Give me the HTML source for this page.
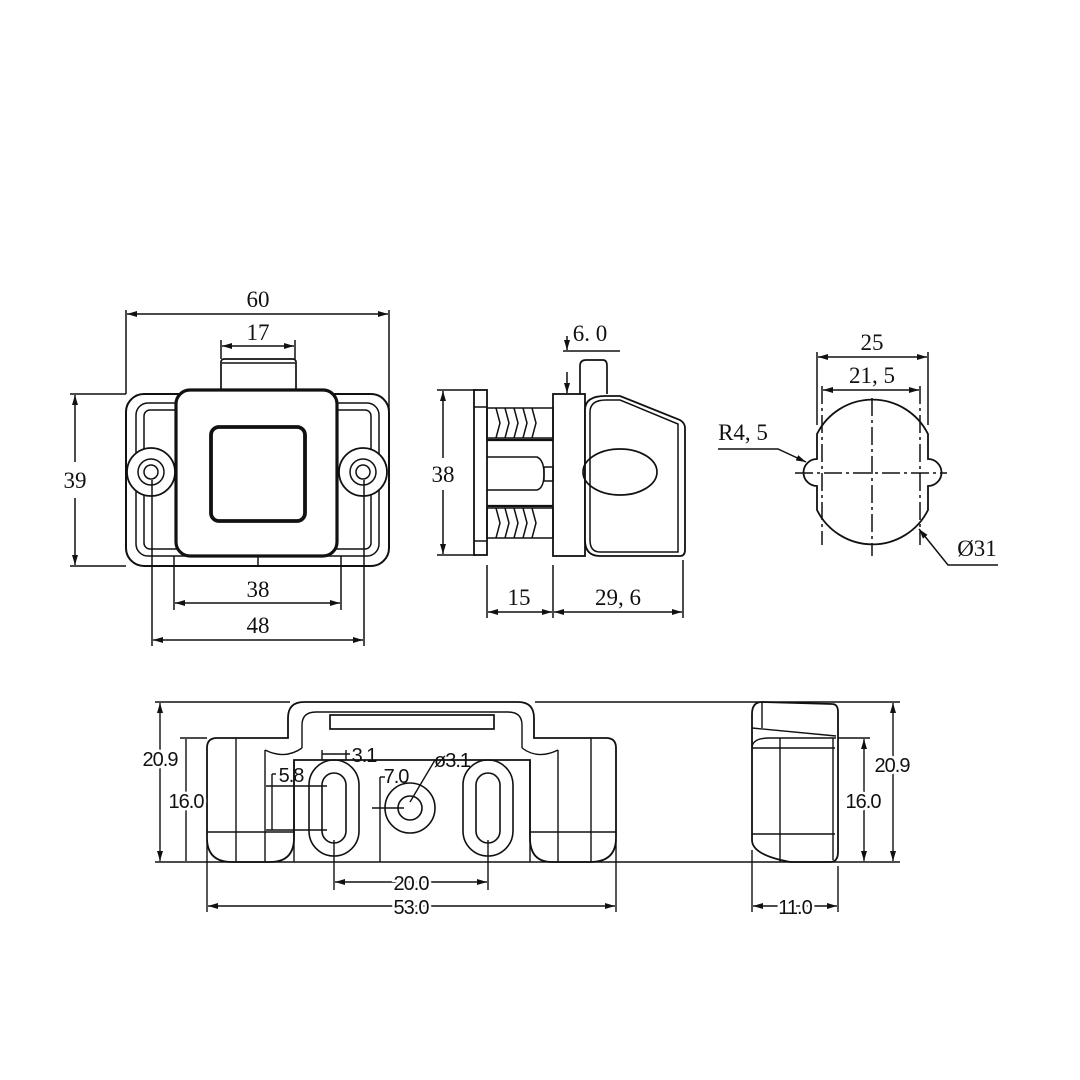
<!DOCTYPE html>
<html><head><style>html,body{margin:0;padding:0;background:#fff}svg{display:block}</style></head>
<body>
<svg width="1080" height="1080" viewBox="0 0 1080 1080" xmlns="http://www.w3.org/2000/svg">
<defs>
<marker id="a" viewBox="0 0 10 6" refX="10" refY="3" markerWidth="10" markerHeight="6" orient="auto-start-reverse" markerUnits="userSpaceOnUse"><path d="M0,0 L10,3 L0,6 z" fill="#111"/></marker>
</defs>
<rect width="1080" height="1080" fill="#fff"/>
<g fill="none" stroke="#111" stroke-width="1.5">
<!-- FRONT VIEW -->
<line x1="126" y1="310" x2="126" y2="394"/><line x1="389" y1="310" x2="389" y2="410"/>
<line x1="127" y1="314" x2="388" y2="314" marker-start="url(#a)" marker-end="url(#a)"/>
<line x1="221" y1="340" x2="221" y2="359"/><line x1="295" y1="340" x2="295" y2="359"/>
<line x1="222" y1="346" x2="294" y2="346" marker-start="url(#a)" marker-end="url(#a)"/>
<rect x="221" y="359" width="75" height="32" rx="3" stroke-width="1.7"/>
<line x1="222" y1="363" x2="295" y2="363"/>
<rect x="126" y="394" width="263" height="172" rx="18" stroke-width="2"/>
<rect x="136" y="403" width="243" height="153" rx="12"/>
<rect x="144" y="410" width="227" height="139" rx="6"/>
<circle cx="151" cy="472" r="24" fill="#fff" stroke-width="1.8"/>
<circle cx="151" cy="472" r="13"/><circle cx="151" cy="472" r="7"/>
<circle cx="363" cy="472" r="24" fill="#fff" stroke-width="1.8"/>
<circle cx="363" cy="472" r="13"/><circle cx="363" cy="472" r="7"/>
<rect x="176" y="390" width="161" height="166" rx="14" fill="#fff" stroke-width="3.2"/>
<rect x="211" y="427" width="94" height="94" rx="8" stroke-width="3.8"/>
<line x1="258" y1="556" x2="258" y2="566"/>
<line x1="70" y1="394" x2="126" y2="394"/><line x1="70" y1="566" x2="126" y2="566"/>
<line x1="75" y1="395" x2="75" y2="462" marker-start="url(#a)"/>
<line x1="75" y1="498" x2="75" y2="565" marker-end="url(#a)"/>
<line x1="174" y1="556" x2="174" y2="610"/><line x1="341" y1="556" x2="341" y2="610"/>
<line x1="175" y1="603" x2="340" y2="603" marker-start="url(#a)" marker-end="url(#a)"/>
<line x1="152" y1="480" x2="152" y2="646"/><line x1="364" y1="480" x2="364" y2="646"/>
<line x1="153" y1="640" x2="363" y2="640" marker-start="url(#a)" marker-end="url(#a)"/>

<!-- SIDE VIEW -->
<line x1="437" y1="390" x2="476" y2="390"/><line x1="437" y1="555" x2="476" y2="555"/>
<line x1="443" y1="391" x2="443" y2="458" marker-start="url(#a)"/>
<line x1="443" y1="490" x2="443" y2="554" marker-end="url(#a)"/>
<rect x="474" y="390" width="13" height="165" stroke-width="1.8"/>
<line x1="474" y1="407" x2="487" y2="407"/><line x1="474" y1="541" x2="487" y2="541"/>
<rect x="487" y="408" width="66" height="30"/>
<rect x="487" y="508" width="66" height="30"/>
<path d="M496,408 l4,15 l-4,15 M505,408 l4,15 l-4,15 M514,408 l4,15 l-4,15 M523,408 l4,15 l-4,15 M532,408 l4,15 l-4,15"/>
<path d="M496,508 l4,15 l-4,15 M505,508 l4,15 l-4,15 M514,508 l4,15 l-4,15 M523,508 l4,15 l-4,15 M532,508 l4,15 l-4,15"/>
<line x1="487" y1="440" x2="553" y2="440" stroke-width="2.2"/><line x1="487" y1="506" x2="553" y2="506" stroke-width="2.2"/>
<path d="M487,457 L537,457 Q544,460 544,474 Q544,488 537,490 L487,490"/>
<rect x="544" y="467" width="9" height="14"/>
<rect x="553" y="394" width="32" height="162" stroke-width="1.8"/>
<path d="M580,394 L580,366 Q580,360 586,360 L603,360 Q607,360 607,366 L607,394" stroke-width="1.7"/>
<path d="M585,410 Q585,396 605,396 L620,396 L680,420 Q685,423 685,428 L685,550 Q685,556 680,556 L600,556 Q585,556 585,540 Z" fill="#fff" stroke-width="1.8"/>
<path d="M590,412 Q590,400 606,400 L620,400 L678,424 L678,552 L600,552 Q590,552 590,540 Z"/>
<ellipse cx="620" cy="472" rx="37" ry="23" stroke-width="1.7"/>
<line x1="563" y1="351" x2="620" y2="351"/>
<line x1="567" y1="336" x2="567" y2="350" marker-end="url(#a)"/>
<line x1="567" y1="372" x2="567" y2="393" marker-end="url(#a)"/>
<line x1="487" y1="565" x2="487" y2="618"/><line x1="553" y1="565" x2="553" y2="618"/><line x1="683" y1="560" x2="683" y2="618"/>
<line x1="488" y1="612" x2="552" y2="612" marker-start="url(#a)" marker-end="url(#a)"/>
<line x1="554" y1="612" x2="682" y2="612" marker-start="url(#a)" marker-end="url(#a)"/>

<!-- RIGHT CIRCLE VIEW -->
<line x1="817" y1="352" x2="817" y2="425"/><line x1="928" y1="352" x2="928" y2="425"/>
<line x1="818" y1="357" x2="927" y2="357" marker-start="url(#a)" marker-end="url(#a)"/>
<line x1="822" y1="386" x2="822" y2="545" stroke-dasharray="18,4,3,4"/>
<line x1="920" y1="386" x2="920" y2="545" stroke-dasharray="18,4,3,4"/>
<line x1="823" y1="390" x2="919" y2="390" marker-start="url(#a)" marker-end="url(#a)"/>
<path d="M817,434 A62,62 0 0 1 928,434 L928,459 A13,13 0 0 1 928,486 L928,510 A62,62 0 0 1 817,510 L817,486 A13,13 0 0 1 817,459 Z" stroke-width="1.8"/>
<line x1="872" y1="398" x2="872" y2="556" stroke-dasharray="18,4,3,4"/>
<line x1="795" y1="473" x2="947" y2="473" stroke-dasharray="18,4,3,4"/>
<path d="M718,449 L778,449 L806,462" marker-end="url(#a)"/>
<path d="M998,565 L948,565 L919,529" marker-end="url(#a)"/>

<!-- BOTTOM VIEW -->
<g stroke-width="1.4">
<line x1="155" y1="702" x2="290" y2="702"/><line x1="535" y1="702" x2="900" y2="702"/>
<line x1="155" y1="862" x2="900" y2="862"/>
<line x1="160" y1="703" x2="160" y2="861" marker-start="url(#a)" marker-end="url(#a)"/>
<line x1="186" y1="739" x2="186" y2="861"/><line x1="180" y1="738" x2="207" y2="738"/>
<path d="M207,748 Q207,738 217,738 L288,738 L288,718 Q288,702 304,702 L518,702 Q534,702 534,718 L534,738 L606,738 Q616,738 616,748 L616,838 Q616,862 590,862 L552,862 Q530,862 530,838 L530,760 L294,760 L294,838 Q294,862 270,862 L232,862 Q207,862 207,838 Z" stroke-width="1.8"/>
<path d="M302,748 L302,725 Q302,712 316,712 L508,712 Q522,712 522,725 L522,748"/>
<rect x="330" y="715" width="164" height="14" stroke-width="1.7"/>
<line x1="207" y1="832" x2="294" y2="832"/><line x1="530" y1="832" x2="616" y2="832"/>
<line x1="236" y1="738" x2="236" y2="862"/><line x1="591" y1="738" x2="591" y2="862"/>
<line x1="265" y1="750" x2="265" y2="862"/><line x1="558" y1="750" x2="558" y2="862"/>
<path d="M265,750 Q285,760 302,748 M558,750 Q538,760 522,748"/>
<line x1="294" y1="760" x2="294" y2="862"/><line x1="530" y1="760" x2="530" y2="862"/>
<rect x="309" y="760" width="50" height="96" rx="25" stroke-width="1.6"/>
<rect x="322" y="773" width="24" height="70" rx="12" stroke-width="1.6"/>
<rect x="463" y="760" width="50" height="96" rx="25" stroke-width="1.6"/>
<rect x="476" y="773" width="24" height="70" rx="12" stroke-width="1.6"/>
<circle cx="410" cy="808" r="25" stroke-width="1.6"/><circle cx="410" cy="808" r="12" stroke-width="1.6"/>
<line x1="372" y1="808" x2="404" y2="808"/>
<line x1="380" y1="777" x2="380" y2="862"/><line x1="380" y1="777" x2="385" y2="777"/>
<line x1="410" y1="802" x2="435" y2="760"/>
<line x1="322" y1="750" x2="322" y2="760"/><line x1="346" y1="750" x2="346" y2="760"/>
<line x1="322" y1="754" x2="350" y2="754"/>
<line x1="266" y1="786" x2="327" y2="786"/><line x1="266" y1="830" x2="327" y2="830"/>
<line x1="272" y1="774" x2="272" y2="830"/><line x1="272" y1="774" x2="276" y2="774"/>
<line x1="334" y1="840" x2="334" y2="890"/><line x1="488" y1="840" x2="488" y2="890"/>
<line x1="335" y1="882" x2="487" y2="882" marker-start="url(#a)" marker-end="url(#a)"/>
<line x1="207" y1="840" x2="207" y2="912"/><line x1="616" y1="840" x2="616" y2="912"/>
<line x1="208" y1="906" x2="615" y2="906" marker-start="url(#a)" marker-end="url(#a)"/>
</g>

<!-- SMALL SIDE VIEW -->
<g stroke-width="1.4">
<path d="M752,714 Q752,702 762,702 L832,704 Q838,704 838,712 L838,852 Q838,862 830,862 L790,862 Q752,855 752,840 Z" stroke-width="1.8"/>
<line x1="762" y1="702" x2="762" y2="728"/>
<line x1="752" y1="728" x2="836" y2="736"/>
<path d="M752,748 Q752,738 770,738 L836,738"/>
<line x1="752" y1="748" x2="835" y2="748"/>
<line x1="780" y1="738" x2="780" y2="862"/>
<line x1="752" y1="834" x2="835" y2="834"/>
<line x1="833" y1="738" x2="833" y2="860"/>
<line x1="838" y1="738" x2="870" y2="738"/>
<line x1="864" y1="739" x2="864" y2="861" marker-start="url(#a)" marker-end="url(#a)"/>
<line x1="893" y1="703" x2="893" y2="861" marker-start="url(#a)" marker-end="url(#a)"/>
<line x1="752" y1="850" x2="752" y2="912"/><line x1="838" y1="866" x2="838" y2="912"/>
<line x1="753" y1="906" x2="837" y2="906" marker-start="url(#a)" marker-end="url(#a)"/>
</g>
</g>

<g font-family="Liberation Serif, serif" font-size="23" fill="#111" text-anchor="middle">
<text x="258" y="307">60</text>
<text x="258" y="340">17</text>
<text x="75" y="488">39</text>
<text x="258" y="597">38</text>
<text x="258" y="633">48</text>
<text x="443" y="482">38</text>
<text x="590" y="341">6. 0</text>
<text x="519" y="605">15</text>
<text x="618" y="605">29, 6</text>
<text x="872" y="350">25</text>
<text x="872" y="383">21, 5</text>
<text x="743" y="440">R4, 5</text>
<text x="977" y="556">Ø31</text>
</g>
<g font-family="Liberation Sans Narrow, Liberation Sans, sans-serif" font-size="20" fill="#111" text-anchor="middle" letter-spacing="-1">
<text x="160" y="766" style="paint-order:stroke" stroke="#fff" stroke-width="5">20.9</text>
<text x="186" y="808" style="paint-order:stroke" stroke="#fff" stroke-width="5">16.0</text>
<text x="364" y="762">3.1</text>
<text x="291" y="782">5.8</text>
<text x="396" y="783">7.0</text>
<text x="452" y="767">ø3.1</text>
<text x="411" y="890" style="paint-order:stroke" stroke="#fff" stroke-width="5">20.0</text>
<text x="411" y="914" style="paint-order:stroke" stroke="#fff" stroke-width="5">53.0</text>
<text x="892" y="772" style="paint-order:stroke" stroke="#fff" stroke-width="5">20.9</text>
<text x="863" y="808" style="paint-order:stroke" stroke="#fff" stroke-width="5">16.0</text>
<text x="795" y="914" style="paint-order:stroke" stroke="#fff" stroke-width="5">11.0</text>
</g>
</svg>
</body></html>
